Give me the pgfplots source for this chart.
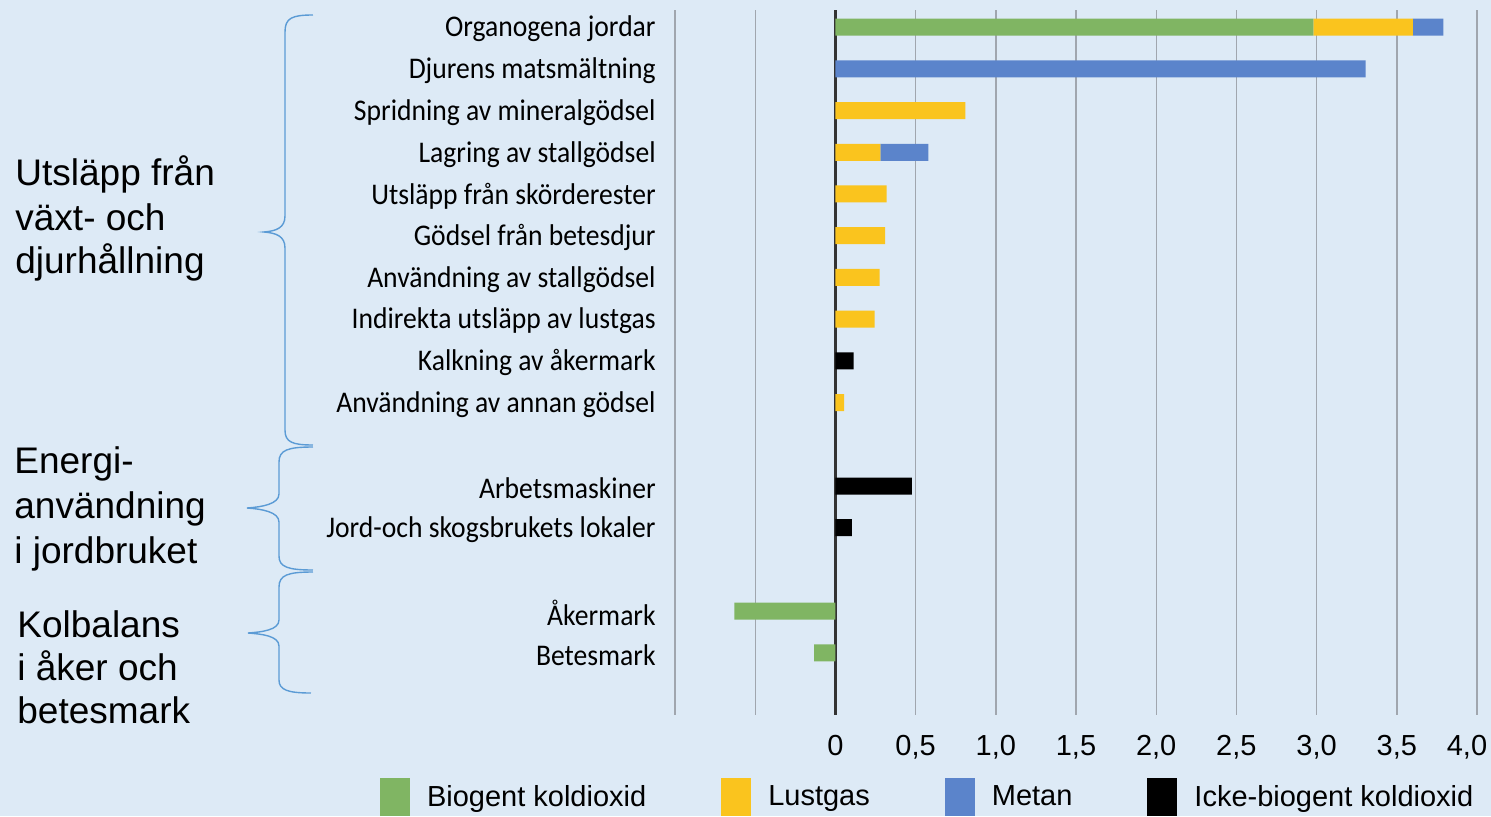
\documentclass[border=0pt]{standalone}
\usepackage{pgfplots}
\pgfplotsset{compat=1.18}
\usepackage{fontspec}
\setmainfont{Liberation Sans}
\newfontfamily\calib[FakeStretch=0.92]{Carlito}
\definecolor{bgc}{RGB}{221,234,246}
\definecolor{cgreen}{RGB}{128,181,99}
\definecolor{cyellow}{RGB}{250,196,30}
\definecolor{cblue}{RGB}{91,132,203}
\definecolor{cbrace}{RGB}{91,155,213}
\definecolor{cgrid}{RGB}{160,166,174}
\pgfplotstableread{
y green yellow blue black
0 2.98 0.62 0.19 0
1 0 0 3.305 0
2 0 0.81 0 0
3 0 0.28 0.30 0
4 0 0.32 0 0
5 0 0.31 0 0
6 0 0.275 0 0
7 0 0.245 0 0
8 0 0 0 0.114
9 0 0.055 0 0
11 0 0 0 0.476
12 0 0 0 0.103
14 -0.63 0 0 0
15 -0.132 0 0 0
}\datatable
\begin{document}
\begin{tikzpicture}
\fill[bgc] (-337.5pt,-50.5pt) rectangle (408pt,357.5pt);
\begin{axis}[
  scale only axis,
  width=401pt, height=352.5pt,
  xmin=-1, xmax=4,
  ymin=-0.41, ymax=16.49,
  y dir=reverse,
  xbar stacked,
  bar width=8.5pt,
  axis line style={draw=none},
  major tick length=0pt,
  tick style={draw=none},
  xtick={-1,-0.5,...,4},
  xticklabels={{},{},0,{0,5},{1,0},{1,5},{2,0},{2,5},{3,0},{3,5},{\makebox[0pt][c]{\hspace{-10pt}4,0}}},
  xmajorgrids,
  grid style={cgrid, line width=0.7pt},
  extra x ticks={0},
  extra x tick labels={},
  extra x tick style={grid style={black!80, line width=1.5pt}},
  xticklabel style={font=\fontsize{14.5}{16}\selectfont, inner sep=0pt, anchor=north, yshift=-10pt},
  ytick={0,1,2,3,4,5,6,7,8,9,11,12,14,15},
  yticklabels={Organogena jordar, Djurens matsmältning, Spridning av mineralgödsel, Lagring av stallgödsel, Utsläpp från skörderester, Gödsel från betesdjur, Användning av stallgödsel, Indirekta utsläpp av lustgas, Kalkning av åkermark, Användning av annan gödsel, Arbetsmaskiner, Jord-och skogsbrukets lokaler, Åkermark, Betesmark},
  yticklabel style={font=\calib\fontsize{15}{17}\selectfont, inner sep=0pt, anchor=east, xshift=-9.5pt, yshift=-1pt},
  legend columns=4,
  legend style={at={(-0.3678,-0.0894)}, anchor=north west, draw=none, fill=none, inner sep=0pt, outer sep=0pt,
    font=\fontsize{14.5}{16}\selectfont,
    /tikz/every odd column/.append style={column sep=6.5pt},
    /tikz/every even column/.append style={column sep=35.5pt}},
  legend image code/.code={\fill[#1] (0pt,-9.5pt) rectangle (15pt,9.5pt);},
]
\addplot[fill=cgreen, draw=none] table[x=green, y=y] {\datatable};
\addplot[fill=cyellow, draw=none] table[x=yellow, y=y] {\datatable};
\addplot[fill=cblue, draw=none] table[x=blue, y=y] {\datatable};
\addplot[fill=black, draw=none] table[x=black, y=y] {\datatable};
\legend{Biogent koldioxid, Lustgas, Metan, Icke-biogent koldioxid}
\end{axis}
\begin{scope}[shift={(-337.5pt,357.5pt)}, x=0.5pt, y=-0.5pt]
\draw[cbrace, line width=0.7pt] (313,15) .. controls (292,15) and (285,18) .. (285,32) -- (285,216) .. controls (285,228) and (276,231) .. (264,232) .. controls (276,233) and (285,236) .. (285,248) -- (285,430) .. controls (285,442) and (292,445) .. (313,445);
\draw[cbrace, line width=0.7pt] (313,447) .. controls (288,447) and (279,450) .. (279,462) -- (279,494) .. controls (279,504) and (262,507) .. (247,508) .. controls (262,509) and (279,512) .. (279,522) -- (279,556) .. controls (279,567) and (288,570) .. (313,570);
\draw[cbrace, line width=0.7pt] (313,572) .. controls (288,572) and (279,575) .. (279,587) -- (279,620) .. controls (279,630) and (262,632) .. (248,633) .. controls (262,634) and (279,636) .. (279,646) -- (279,680) .. controls (279,690) and (288,693) .. (311,693);
\begin{scope}[every node/.style={anchor=base west, inner sep=0pt, font=\fontsize{18.5}{22}\selectfont}]
\node at (15,185) {Utsläpp från};
\node at (15,230) {växt- och};
\node at (15,273) {djurhållning};
\node at (14,473) {Energi-};
\node at (14,518) {användning};
\node at (14,563) {i jordbruket};
\node at (17,637) {Kolbalans};
\node at (17,680) {i åker och};
\node at (17,723) {betesmark};
\end{scope}
\end{scope}
\pgfresetboundingbox
\path[use as bounding box] (-337.5pt,-50.5pt) rectangle (408pt,357.5pt);
\end{tikzpicture}
\end{document}
